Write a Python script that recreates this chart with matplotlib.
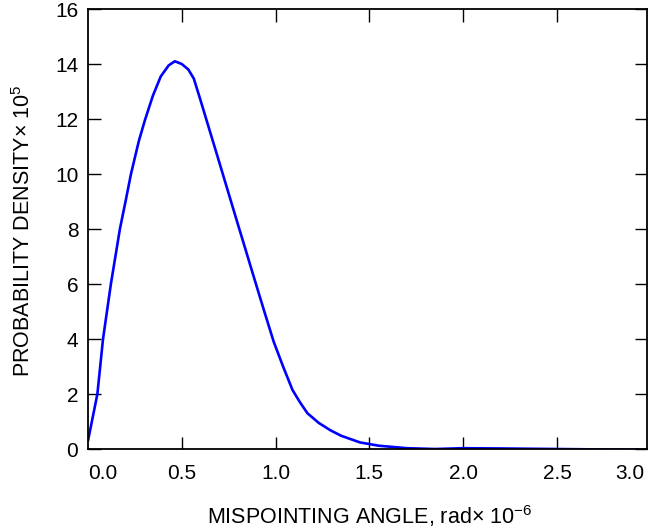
import matplotlib
matplotlib.use('Agg')
import matplotlib.pyplot as plt

plt.rcParams['font.family'] = ['Liberation Sans', 'DejaVu Sans']
plt.rcParams['mathtext.fontset'] = 'custom'
plt.rcParams['mathtext.rm'] = 'Liberation Sans'
plt.rcParams['mathtext.it'] = 'Liberation Sans:italic'
plt.rcParams['mathtext.bf'] = 'Liberation Sans:bold'

# Mispointing angle (rad x 1e-6) and probability density (x 1e5)
angle = [0, 0.05, 0.08, 0.122, 0.17, 0.20, 0.229, 0.271, 0.303, 0.346,
         0.388, 0.43, 0.463, 0.50, 0.535, 0.564, 0.60, 0.65, 0.69, 0.745,
         0.80, 0.84, 0.894, 0.94, 0.99, 1.04, 1.09, 1.13, 1.17, 1.23, 1.29,
         1.35, 1.45, 1.55, 1.70, 1.85, 2.0, 2.2, 2.5, 2.8, 2.98]
density = [0.3, 2.0, 4.0, 6.0, 8.0, 9.0, 10.0, 11.2, 11.95, 12.85,
           13.55, 13.95, 14.1, 14.0, 13.8, 13.47, 12.68, 11.55, 10.65, 9.4,
           8.15, 7.25, 6.03, 5.0, 3.9, 3.0, 2.15, 1.7, 1.3, 0.95, 0.69,
           0.48, 0.24, 0.12, 0.03, 0.0, 0.03, 0.02, 0.0, -0.02, -0.03]

x_ticks = [0.5, 1.0, 1.5, 2.0, 2.5]
x_tick_labels = ['0.5', '1.0', '1.5', '2.0', '2.5']
y_ticks = [0, 2, 4, 6, 8, 10, 12, 14, 16]

fig = plt.figure(figsize=(6.49, 5.31), dpi=100)
ax = fig.add_axes([0.1356, 0.1544, 0.8613, 0.8286])

ax.plot(angle, density, color='#0000ff', linewidth=1.9,
        solid_joinstyle='round', solid_capstyle='round')

ax.set_xlim(0, 2.98)
ax.set_ylim(0, 16)
ax.set_xticks(x_ticks)
ax.set_xticklabels(x_tick_labels)
ax.set_yticks(y_ticks)
ax.tick_params(direction='in', length=9, width=1.0, labelsize=15,
               top=True, right=True, colors='black')
ax.tick_params(axis='x', pad=11)
ax.tick_params(axis='y', pad=7)
for s in ax.spines.values():
    s.set_linewidth(1.3)

# end labels sit slightly inside the axis in the original
ax.text(0.08, -0.035, '0.0', transform=ax.get_xaxis_transform(),
        ha='center', va='top', fontsize=15)
ax.text(2.89, -0.035, '3.0', transform=ax.get_xaxis_transform(),
        ha='center', va='top', fontsize=15, clip_on=False)

ax.set_xlabel(r'MISPOINTING ANGLE, rad$\times$ 10$^{-6}$', fontsize=15.5, va='top')
ax.xaxis.set_label_coords(0.503, -0.122)
ax.set_ylabel(r'PROBABILITY DENSITY$\times$ 10$^{5}$', fontsize=15.5)
ax.yaxis.set_label_coords(-0.095, 0.497)

fig.savefig('out.png', dpi=100)
